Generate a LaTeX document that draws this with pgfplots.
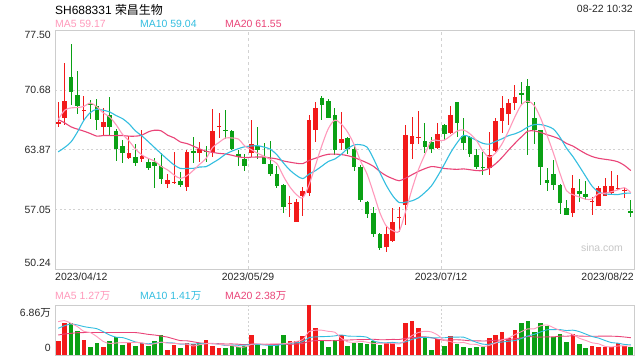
\documentclass[border=0pt]{standalone}
\usepackage{pgfplots}
\pgfplotsset{compat=1.18}
\usepackage{pgfplotstable}
\usepackage{fontspec}
\setmainfont{Liberation Sans}
\newfontfamily\cjk{Noto Sans CJK SC}

\definecolor{cRed}{RGB}{242,26,26}
\definecolor{cGreen}{RGB}{10,160,20}
\definecolor{cMAa}{RGB}{255,153,187}
\definecolor{cMAb}{RGB}{51,190,224}
\definecolor{cMAc}{RGB}{234,68,120}
\definecolor{cGrid}{RGB}{210,210,210}
\definecolor{cBorder}{RGB}{205,205,205}
\definecolor{cText}{RGB}{40,40,40}

% red candles: index open high low close
\pgfplotstableread[row sep=\\]{
i O H L C\\
0 66.85 69.32 66.47 67.0\\
1 67.5 73.81 66.66 69.4\\
4 68.3 69.97 67.31 68.4\\
7 66.47 68.68 65.52 67.0\\
11 62.94 65.48 62.75 63.47\\
13 62.82 66.17 62.48 63.13\\
17 59.93 61.04 59.44 60.39\\
18 60.1 63.62 60.0 60.2\\
20 59.63 63.81 59.14 63.6\\
22 63.51 64.69 62.48 63.93\\
24 63.62 68.49 63.05 65.98\\
25 66.45 68.11 65.15 66.55\\
30 63.51 67.24 62.98 64.5\\
36 57.65 58.57 56.21 57.75\\
37 55.64 58.19 55.64 57.92\\
38 58.6 59.63 56.32 59.14\\
39 58.95 67.81 58.57 67.24\\
40 66.1 69.33 64.69 68.57\\
44 64.65 68.19 63.81 65.07\\
51 52.71 55.07 52.22 54.23\\
52 53.47 57.16 53.36 55.6\\
53 56.05 57.35 54.5 56.15\\
54 57.54 66.67 55.26 65.53\\
55 64.5 67.62 62.75 65.41\\
56 65.2 68.26 64.5 65.3\\
59 64.08 66.97 63.89 65.64\\
61 65.79 68.87 65.72 67.81\\
67 61.72 65.91 60.96 63.24\\
68 63.74 67.43 63.62 67.12\\
69 67.16 69.97 65.79 68.68\\
70 67.92 69.71 66.67 69.21\\
71 69.21 71.23 68.38 69.9\\
80 56.67 60.96 56.13 59.52\\
83 57.9 58.49 56.4 58.0\\
84 57.43 59.71 57.43 59.44\\
85 58.57 60.58 58.57 59.71\\
86 58.95 61.42 58.87 59.71\\
87 59.42 60.96 59.25 59.52\\
88 59.15 59.52 58.38 59.25\\
}\candR

% green candles: index open high low close
\pgfplotstableread[row sep=\\]{
i O H L C\\
2 72.18 75.98 68.94 70.47\\
3 70.09 72.86 67.99 68.83\\
5 69.05 69.52 67.42 68.95\\
6 68.83 69.63 66.17 67.23\\
8 67.8 69.9 65.52 66.47\\
9 65.98 66.28 62.6 63.89\\
10 64.27 64.95 62.29 63.51\\
12 63.01 64.57 62.02 62.37\\
14 62.44 62.94 61.53 61.8\\
15 62.44 62.86 59.44 62.02\\
16 61.99 63.51 59.93 60.47\\
19 60.32 61.35 59.56 59.8\\
21 63.7 65.34 62.29 63.51\\
23 63.66 64.27 62.48 63.55\\
26 66.1 68.38 65.03 65.98\\
27 65.98 66.1 63.82 63.93\\
28 63.43 63.82 61.99 62.98\\
29 62.79 63.36 61.46 62.03\\
31 64.31 66.48 62.79 63.81\\
32 62.98 64.58 62.18 62.26\\
33 62.22 64.84 60.89 61.08\\
34 61.08 61.99 59.52 59.71\\
35 59.82 59.9 56.59 57.35\\
41 69.82 69.97 67.24 69.02\\
42 69.4 69.71 67.43 67.5\\
43 67.81 68.68 63.24 63.81\\
45 65.22 65.3 63.32 63.89\\
46 63.89 64.38 61.42 61.9\\
47 61.9 62.1 57.92 58.11\\
48 57.92 58.0 56.02 56.51\\
49 56.67 57.35 53.93 54.23\\
50 54.23 54.38 52.41 52.6\\
57 64.84 66.93 63.51 64.19\\
58 64.69 65.26 63.51 64.0\\
60 66.63 66.78 64.95 65.64\\
62 69.29 69.35 65.26 66.86\\
63 65.41 67.43 63.81 64.65\\
64 65.34 65.4 62.98 63.43\\
65 63.24 63.93 61.61 61.9\\
66 61.9 63.62 60.96 61.8\\
72 70.35 71.61 68.95 70.09\\
73 71.11 71.99 63.24 69.21\\
74 67.43 69.33 64.5 66.1\\
75 66.1 66.15 59.82 61.9\\
76 60.39 61.8 59.14 60.09\\
77 61.08 62.67 59.25 59.82\\
78 59.82 59.9 56.48 57.81\\
79 57.16 58.11 56.4 56.4\\
81 59.14 60.5 57.92 58.8\\
82 58.8 60.28 58.11 58.49\\
89 56.9 58.11 56.13 56.67\\
}\candG

% price moving averages
\pgfplotstableread[row sep=\\]{
i m5 m10 m20\\
0 67.31 63.62 67.31\\
1 68.37 64.12 66.93\\
2 68.64 64.76 66.47\\
3 68.68 65.9 66.21\\
4 68.81 67.23 65.98\\
5 69.20 68.11 65.71\\
6 68.77 68.49 65.41\\
7 68.07 68.37 65.48\\
8 67.60 68.18 65.48\\
9 66.71 67.76 65.48\\
10 65.62 67.41 65.48\\
11 64.87 66.82 65.41\\
12 63.94 66.01 65.41\\
13 63.27 65.44 65.52\\
14 62.86 64.78 65.9\\
15 62.56 64.09 66.09\\
16 61.96 63.41 66.02\\
17 61.56 62.75 65.52\\
18 60.98 62.13 65.22\\
19 60.58 61.72 64.74\\
20 60.89 61.73 64.57\\
21 61.50 61.73 64.27\\
22 62.21 61.89 63.95\\
23 62.88 61.93 63.68\\
24 64.11 62.35 63.56\\
25 64.70 62.80 63.44\\
26 65.20 63.35 63.38\\
27 65.20 63.70 63.23\\
28 65.08 63.98 63.05\\
29 64.29 64.20 62.96\\
30 63.88 64.29 63.01\\
31 63.45 64.32 63.03\\
32 63.12 64.16 63.02\\
33 62.74 63.91 62.92\\
34 62.27 63.28 62.81\\
35 60.84 62.36 62.58\\
36 59.63 61.54 62.44\\
37 58.76 60.94 62.32\\
38 58.37 60.56 62.27\\
39 59.88 61.08 62.64\\
40 62.12 61.48 62.89\\
41 64.38 62.00 63.16\\
42 66.29 62.53 63.34\\
43 67.23 62.80 63.36\\
44 66.79 63.34 63.31\\
45 65.86 63.99 63.18\\
46 64.43 64.41 62.97\\
47 62.56 64.43 62.68\\
48 61.10 64.16 62.36\\
49 58.93 62.86 61.97\\
50 56.67 61.26 61.37\\
51 55.14 59.79 60.89\\
52 54.63 58.60 60.56\\
53 54.56 57.83 60.32\\
54 56.82 57.88 60.61\\
55 59.38 58.03 61.01\\
56 61.60 58.37 61.39\\
57 63.32 58.98 61.70\\
58 64.89 59.72 61.94\\
59 64.91 60.87 61.86\\
60 64.95 62.17 61.72\\
61 65.46 63.53 61.66\\
62 65.99 64.65 61.62\\
63 66.12 65.50 61.67\\
64 65.68 65.29 61.58\\
65 64.93 64.94 61.48\\
66 63.73 64.59 61.48\\
67 63.00 64.50 61.74\\
68 63.50 64.81 62.27\\
69 64.55 65.11 62.99\\
70 66.01 65.47 63.82\\
71 67.63 65.68 64.60\\
72 69.00 66.00 65.33\\
73 69.42 66.46 65.98\\
74 68.90 66.73 66.01\\
75 67.44 66.73 65.83\\
76 65.48 66.55 65.57\\
77 63.42 66.21 65.35\\
78 61.14 65.28 65.05\\
79 59.20 64.05 64.58\\
80 58.73 63.08 64.28\\
81 58.47 61.97 63.83\\
82 58.20 60.81 63.41\\
83 58.24 59.69 63.08\\
84 58.85 59.03 62.88\\
85 58.89 58.81 62.77\\
86 59.07 58.77 62.66\\
87 59.28 58.74 62.48\\
88 59.53 58.88 62.08\\
89 58.97 58.91 61.48\\
}\ma

% volume (10k shares), red days
\pgfplotstableread[row sep=\\]{
i v\\
0 1.92\\ 1 4.44\\ 4 2.06\\ 7 1.10\\ 11 1.69\\ 13 1.69\\ 17 0.69\\ 18 1.37\\ 20 1.69\\ 21 1.46\\
23 2.06\\ 24 1.23\\ 25 0.96\\ 30 2.74\\ 36 1.92\\ 37 1.92\\ 38 2.61\\ 39 6.86\\ 40 3.70\\ 44 2.74\\
51 1.60\\ 52 1.60\\ 53 1.10\\ 54 4.39\\ 55 4.66\\ 56 3.70\\ 59 2.19\\ 61 2.61\\ 67 2.33\\ 68 2.74\\
69 3.16\\ 70 2.33\\ 71 3.43\\ 80 2.88\\ 83 1.23\\ 84 1.10\\ 85 1.10\\ 86 1.10\\ 87 1.65\\ 88 1.23\\
}\volR

% volume, green days
\pgfplotstableread[row sep=\\]{
i v\\
2 4.44\\ 3 3.34\\ 5 1.10\\ 6 1.69\\ 8 1.92\\ 9 2.42\\ 10 1.37\\ 12 1.23\\ 14 1.23\\ 15 1.92\\
16 2.74\\ 19 0.96\\ 22 1.60\\ 26 0.96\\ 27 1.23\\ 28 1.10\\ 29 1.23\\ 31 1.46\\ 32 0.82\\ 33 1.37\\
34 1.37\\ 35 2.74\\ 41 1.92\\ 42 1.10\\ 43 2.01\\ 45 1.23\\ 46 1.65\\ 47 1.65\\ 48 1.51\\ 49 1.92\\
50 1.37\\ 57 2.42\\ 58 0.69\\ 60 1.23\\ 62 1.51\\ 63 1.10\\ 64 0.96\\ 65 1.10\\ 66 1.10\\ 72 4.39\\
73 4.66\\ 74 3.16\\ 75 4.39\\ 76 4.02\\ 77 2.47\\ 78 2.88\\ 79 1.78\\ 81 1.51\\ 82 0.96\\ 89 1.10\\
}\volG

% volume moving averages
\pgfplotstableread[row sep=\\]{
i a b c\\
0 4.57 3.66 2.74\\ 1 4.71 4.02 2.88\\ 2 4.34 4.25 2.97\\ 3 3.89 4.12 3.06\\ 4 3.24 3.89 3.08\\
5 3.08 3.75 3.08\\ 6 2.53 3.61 3.08\\ 7 1.86 3.20 3.08\\ 8 1.57 2.74 3.08\\ 9 1.65 2.44 3.08\\
10 1.70 2.39 3.08\\ 11 1.70 2.11 3.08\\ 12 1.73 1.79 3.08\\ 13 1.68 1.63 2.97\\ 14 1.44 1.54 2.83\\
15 1.55 1.63 2.74\\ 16 1.76 1.73 2.60\\ 17 1.65 1.69 2.45\\ 18 1.59 1.64 2.20\\ 19 1.54 1.49 1.97\\
20 1.49 1.52 1.95\\ 21 1.23 1.50 1.81\\ 22 1.42 1.54 1.66\\ 23 1.55 1.57 1.60\\ 24 1.61 1.57 1.56\\
25 1.46 1.48 1.55\\ 26 1.36 1.30 1.51\\ 27 1.29 1.35 1.52\\ 28 1.10 1.33 1.48\\ 29 1.10 1.35 1.42\\
30 1.45 1.46 1.49\\ 31 1.55 1.46 1.48\\ 32 1.47 1.38 1.46\\ 33 1.52 1.31 1.44\\ 34 1.55 1.32 1.45\\
35 1.55 1.50 1.49\\ 36 1.64 1.60 1.45\\ 37 1.86 1.67 1.51\\ 38 2.11 1.82 1.57\\ 39 3.21 2.38 1.87\\
40 3.40 2.48 1.97\\ 41 3.40 2.52 1.99\\ 42 3.24 2.55 1.97\\ 43 3.12 2.62 1.96\\ 44 2.29 2.75 2.04\\
45 1.80 2.60 2.05\\ 46 1.75 2.57 2.09\\ 47 1.86 2.55 2.11\\ 48 1.76 2.44 2.13\\ 49 1.59 1.94 2.16\\
50 1.62 1.71 2.09\\ 51 1.61 1.68 2.10\\ 52 1.60 1.73 2.14\\ 53 1.52 1.64 2.13\\ 54 2.01 1.80 2.28\\
55 2.67 2.15 2.37\\ 56 3.09 2.35 2.46\\ 57 3.25 2.43 2.49\\ 58 3.17 2.35 2.39\\ 59 2.73 2.37 2.16\\
60 2.05 2.36 2.03\\ 61 1.83 2.46 2.07\\ 62 1.65 2.45 2.09\\ 63 1.73 2.45 2.04\\ 64 1.48 2.11 1.95\\
65 1.46 1.75 1.95\\ 66 1.15 1.49 1.92\\ 67 1.32 1.48 1.95\\ 68 1.65 1.69 2.02\\ 69 2.09 1.78 2.08\\
70 2.33 1.89 2.13\\ 71 2.80 1.98 2.22\\ 72 3.21 2.26 2.36\\ 73 3.59 2.62 2.54\\ 74 3.59 2.84 2.47\\
75 4.01 3.17 2.46\\ 76 4.12 3.46 2.48\\ 77 3.74 3.48 2.48\\ 78 3.38 3.49 2.59\\ 79 3.11 3.35 2.57\\
80 2.81 3.41 2.65\\ 81 2.30 3.21 2.60\\ 82 2.00 2.87 2.57\\ 83 1.67 2.53 2.57\\ 84 1.54 2.32 2.58\\
85 1.18 1.99 2.58\\ 86 1.10 1.70 2.58\\ 87 1.24 1.62 2.55\\ 88 1.24 1.45 2.47\\ 89 1.24 1.39 2.37\\
}\vma

\pgfplotsset{
  kbase/.style={
    scale only axis, width=579bp,
    xmin=-0.5, xmax=89.5,
    axis line style={draw=cBorder, line width=0.8bp},
    xtick={29.5,59.5}, xticklabels={}, yticklabels={},
    major tick length=0pt,
    xmajorgrids, ymajorgrids,
    clip=true,
  },
  wick/.style={forget plot, draw=none, mark=none,
    error bars/.cd, y dir=both, y explicit, error mark=none,
    error bar style={draw=#1, line width=1bp, solid}},
}

\begin{document}
\begin{tikzpicture}
\path[use as bounding box, fill=white] (0bp,0bp) rectangle (640bp,360bp);

% ---------- price panel ----------
\begin{axis}[kbase,
  at={(55bp,91bp)}, anchor=south west, height=238.7bp,
  ymin=50.24, ymax=77.5,
  ytick={57.05,63.87,70.68},
  x grid style={cGrid, line width=0.8bp, dash pattern=on 3bp off 3bp},
  y grid style={cGrid, line width=1bp, dash pattern=on 2bp off 2.5bp},
]
% wicks
\addplot[wick=cRed]
  table[x=i, y=O, y error plus expr={\thisrow{H}-\thisrow{O}}, y error minus expr={\thisrow{O}-\thisrow{L}}] {\candR};
\addplot[wick=cGreen]
  table[x=i, y=O, y error plus expr={\thisrow{H}-\thisrow{O}}, y error minus expr={\thisrow{O}-\thisrow{L}}] {\candG};
% bodies
\addplot[forget plot, draw=none, mark=none,
  error bars/.cd, y dir=plus, y explicit, error mark=none,
  error bar style={draw=cRed, line width=4.6bp, solid}]
  table[x=i, y=O, y error plus expr={\thisrow{C}-\thisrow{O}}] {\candR};
\addplot[forget plot, draw=none, mark=none,
  error bars/.cd, y dir=minus, y explicit, error mark=none,
  error bar style={draw=cGreen, line width=4.6bp, solid}]
  table[x=i, y=O, y error minus expr={\thisrow{O}-\thisrow{C}}] {\candG};
% moving averages
\addplot[cMAc, line width=1.1bp, smooth, mark=none] table[x=i, y=m20] {\ma};
\addplot[cMAb, line width=1.1bp, smooth, mark=none] table[x=i, y=m10] {\ma};
\addplot[cMAa, line width=1.1bp, smooth, mark=none] table[x=i, y=m5] {\ma};
\end{axis}

% ---------- volume panel ----------
\begin{axis}[kbase,
  at={(55bp,5bp)}, anchor=south west, height=50bp,
  ymin=0, ymax=6.86,
  ytick={6.86},
  x grid style={cGrid, line width=0.8bp, dash pattern=on 2bp off 2bp},
  y grid style={cGrid, line width=0.8bp, dash pattern=on 2bp off 2bp},
]
\addplot[forget plot, ycomb, mark=none, draw=cRed, line width=4.6bp] table[x=i, y=v] {\volR};
\addplot[forget plot, ycomb, mark=none, draw=cGreen, line width=4.6bp] table[x=i, y=v] {\volG};
\addplot[cMAc, line width=0.9bp, smooth, mark=none] table[x=i, y=c] {\vma};
\addplot[cMAb, line width=0.9bp, smooth, mark=none] table[x=i, y=b] {\vma};
\addplot[cMAa, line width=0.9bp, smooth, mark=none] table[x=i, y=a] {\vma};
\end{axis}

% ---------- texts ----------
\def\fs{\fontsize{10.5}{12}\selectfont}
\node[anchor=west, inner sep=0pt, text=black, font=\fontsize{12}{14}\selectfont] at (55bp,350bp) {SH688331 {\cjk 荣昌生物}};
\node[anchor=east, inner sep=0pt, text=cText, font=\fs] at (633bp,351bp) {08-22 10:32};
\node[anchor=west, inner sep=0pt, text=cMAa, font=\fs] at (55bp,336.5bp) {MA5 59.17};
\node[anchor=west, inner sep=0pt, text=cMAb, font=\fs] at (140bp,336.5bp) {MA10 59.04};
\node[anchor=west, inner sep=0pt, text=cMAc, font=\fs] at (225bp,336.5bp) {MA20 61.55};

\node[anchor=east, inner sep=0pt, text=cText, font=\fs] at (51bp,325bp) {77.50};
\node[anchor=east, inner sep=0pt, text=cText, font=\fs] at (51bp,270.5bp) {70.68};
\node[anchor=east, inner sep=0pt, text=cText, font=\fs] at (51bp,210.5bp) {63.87};
\node[anchor=east, inner sep=0pt, text=cText, font=\fs] at (51bp,150.5bp) {57.05};
\node[anchor=east, inner sep=0pt, text=cText, font=\fs] at (51bp,97bp) {50.24};

\node[anchor=west, inner sep=0pt, text=cText, font=\fs] at (55bp,83bp) {2023/04/12};
\node[inner sep=0pt, text=cText, font=\fs] at (248bp,83bp) {2023/05/29};
\node[inner sep=0pt, text=cText, font=\fs] at (441bp,83bp) {2023/07/12};
\node[anchor=east, inner sep=0pt, text=cText, font=\fs] at (634bp,83bp) {2023/08/22};

\node[text=black!22, inner sep=0pt, font=\fs] at (602bp,112bp) {sina.com};

\node[anchor=west, inner sep=0pt, text=cMAa, font=\fs] at (55bp,64bp) {MA5 1.27{\cjk 万}};
\node[anchor=west, inner sep=0pt, text=cMAb, font=\fs] at (140bp,64bp) {MA10 1.41{\cjk 万}};
\node[anchor=west, inner sep=0pt, text=cMAc, font=\fs] at (225bp,64bp) {MA20 2.38{\cjk 万}};
\node[anchor=east, inner sep=0pt, text=cText, font=\fs] at (51bp,47bp) {6.86{\cjk 万}};
\node[anchor=east, inner sep=0pt, text=cText, font=\fs] at (51bp,12bp) {0};
\end{tikzpicture}
\end{document}
